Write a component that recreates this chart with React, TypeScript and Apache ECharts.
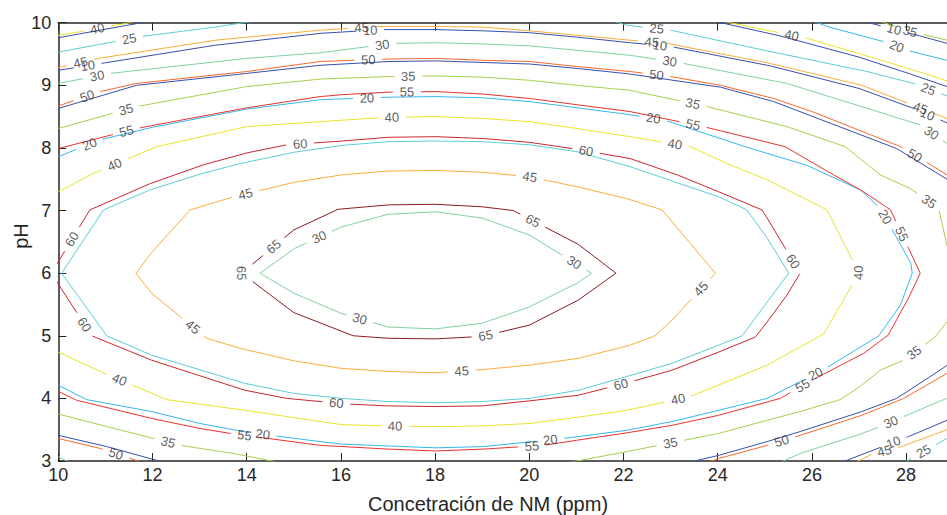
import { useEffect, useRef } from "react";
import * as echarts from "echarts";

type Pt = [number, number];

// Axis ranges and ticks
const X_MIN = 10;
const X_MAX = 30;
const X_STEP = 2;
const Y_MIN = 3;
const Y_MAX = 10;
const Y_STEP = 1;
const X_TITLE = "Concetración de NM (ppm)";
const Y_TITLE = "pH";

// Contour lines (x = NM ppm, y = pH)
const G30in: Pt[] = [[14.28,6],[15.03,6.40],[16.02,6.74],[17.0,6.94],[18.02,6.98],[19.0,6.88],[20.0,6.61],[21.04,6.13],[21.32,6.0],[21.04,5.85],[20.0,5.46],[19.0,5.20],[18.0,5.11],[17.0,5.14],[16.0,5.36],[15.0,5.68],[14.28,6]];
const DR65: Pt[] = [[13.89,6],[15.0,6.69],[15.94,7.02],[17.0,7.09],[18.0,7.10],[19.0,7.06],[19.66,7.0],[21.04,6.46],[21.84,6.0],[21.04,5.57],[20.0,5.17],[19.0,4.99],[18.0,4.95],[17.0,4.96],[16.26,5.0],[15.0,5.37],[13.89,6]];
const O45: Pt[] = [[11.65,6],[11.98,6.33],[12.8,7.01],[13.72,7.22],[15.0,7.45],[16.02,7.57],[17.0,7.63],[18.02,7.64],[19.02,7.61],[20.0,7.54],[21.01,7.38],[22.07,7.19],[22.82,7.01],[23.95,6.0],[23.03,5.25],[22.67,5.0],[22.14,4.85],[21.04,4.64],[20.0,4.53],[19.0,4.46],[18.0,4.41],[17.0,4.43],[16.0,4.48],[15.0,4.6],[13.86,4.80],[13.15,4.96],[11.98,5.68],[11.65,6]];
const C25in: Pt[] = [[10.07,6],[10.96,7.01],[11.95,7.33],[13.0,7.58],[13.86,7.75],[15.0,7.93],[16.02,8.04],[17.0,8.10],[18.02,8.11],[19.0,8.10],[20.01,8.05],[21.01,7.94],[22.14,7.70],[23.0,7.48],[24.02,7.22],[24.62,7.01],[25.05,6.56],[25.51,6.0],[25.0,5.49],[24.52,5.0],[24.02,4.85],[23.03,4.56],[22.07,4.35],[21.04,4.13],[20.01,4.0],[19.0,3.95],[18.02,3.93],[17.0,3.95],[16.02,4.0],[15.0,4.08],[13.96,4.24],[11.98,4.69],[11.03,5.0],[10.07,6]];
const R60: Pt[] = [[9.85,6],[10.67,7.01],[11.95,7.43],[13.08,7.73],[14.0,7.92],[14.85,8.05],[16.02,8.11],[17.0,8.17],[18.02,8.18],[19.02,8.15],[20.0,8.09],[21.0,7.98],[22.14,7.83],[23.14,7.57],[24.02,7.30],[24.94,7.01],[25.05,6.88],[25.75,6.0],[25.47,5.65],[25.05,5.22],[24.8,4.98],[24.02,4.74],[23.03,4.45],[22.18,4.27],[21.04,4.05],[20.0,3.96],[19.0,3.88],[18.0,3.87],[17.0,3.88],[16.12,3.91],[14.85,4.0],[13.96,4.13],[11.98,4.61],[10.71,5.0],[9.85,6]];
const Y40: Pt[] = [[10,7.30],[10.71,7.58],[12.09,8.02],[14.0,8.34],[15.56,8.42],[17.0,8.49],[18.02,8.50],[19.02,8.47],[20.01,8.42],[21.01,8.31],[22.14,8.18],[23.42,8.02],[24.2,7.75],[25.05,7.49],[26.32,7.01],[27.0,6.0],[26.25,5.03],[25.05,4.53],[23.42,4.03],[22.07,3.81],[21.04,3.70],[20.01,3.60],[19.0,3.56],[18.02,3.55],[17.0,3.56],[16.02,3.58],[15.56,3.63],[13.96,3.81],[12.30,3.98],[10.89,4.43],[10,4.74]];
const LB20: Pt[] = [[10,7.86],[10.89,8.13],[12.0,8.33],[14.0,8.62],[15.56,8.77],[17.0,8.81],[18.02,8.82],[19.02,8.80],[20.01,8.74],[22.14,8.53],[22.85,8.45],[24.58,8.02],[25.9,7.72],[27.03,7.33],[27.45,7.04],[28.1,6.16],[28.13,6.0],[27.88,5.49],[27.42,5.0],[27.03,4.82],[26.25,4.46],[25.05,4.0],[24.02,3.81],[23.03,3.63],[22.07,3.49],[20.72,3.36],[19.02,3.23],[18.02,3.21],[16.02,3.27],[15.45,3.32],[14.0,3.46],[13.0,3.60],[11.98,3.79],[10.6,3.98],[10,4.21]];
const R55: Pt[] = [[10,7.99],[11.66,8.31],[14.0,8.64],[15.56,8.82],[16.02,8.85],[17.0,8.89],[18.02,8.90],[19.02,8.86],[20.01,8.79],[21.01,8.69],[22.14,8.58],[23.7,8.34],[25.43,8.02],[26.46,7.57],[27.1,7.30],[27.67,7.01],[28.30,6.0],[28.05,5.60],[27.62,5.01],[27.1,4.72],[26.0,4.29],[25.33,4.0],[24.02,3.73],[23.03,3.57],[22.07,3.45],[21.0,3.33],[20.3,3.25],[19.02,3.19],[18.02,3.16],[17.0,3.19],[15.56,3.25],[13.65,3.44],[13.0,3.52],[11.98,3.68],[10.39,3.97],[10,4.11]];
const YG35: Pt[] = [[10,8.31],[11.66,8.66],[14.0,8.98],[15.56,9.10],[17.0,9.14],[18.02,9.15],[19.02,9.13],[20.01,9.08],[21.01,9.0],[22.14,8.92],[23.77,8.66],[25.47,8.34],[26.71,8.02],[27.45,7.57],[28.09,7.35],[28.69,7.04],[29.0,6.0],[28.87,5.22],[28.6,4.97],[27.95,4.61],[27.45,4.45],[27.06,4.21],[26.6,3.98],[25.75,3.79],[25.05,3.65],[24.02,3.44],[22.07,3.15],[21.01,3.0],[20.5,2.93]];
const YG35ll: Pt[] = [[10,3.75],[11.03,3.55],[12.59,3.25],[13.72,3.12],[14.6,2.99]];
const OR50top: Pt[] = [[10,8.67],[10.89,8.90],[11.66,9.03],[14.0,9.22],[15.56,9.38],[17.0,9.42],[18.02,9.43],[19.02,9.40],[20.01,9.38],[21.01,9.30],[22.14,9.22],[23.0,9.14],[24.06,9.0],[25.19,8.79],[26.04,8.57],[27.88,8.02],[28.87,7.57],[29.2,7.4]];
const DB15top: Pt[] = [[10,8.63],[11.66,9.0],[14.0,9.19],[15.56,9.32],[17.0,9.38],[18.02,9.39],[20.01,9.34],[21.01,9.27],[22.14,9.18],[24.06,8.97],[25.19,8.74],[27.8,7.99],[28.87,7.5],[29.2,7.35]];
const OR50br: Pt[] = [[23.84,2.99],[24.02,3.04],[25.05,3.25],[25.75,3.41],[27.06,3.73],[27.95,4.0],[28.87,4.40],[29.2,4.55]];
const DB15br: Pt[] = [[23.45,2.99],[24.02,3.09],[25.05,3.31],[25.75,3.47],[27.06,3.79],[27.8,4.0],[28.72,4.45],[29.1,4.65]];
const OR50ll: Pt[] = [[10,3.36],[10.89,3.20],[11.73,2.99]];
const DB15ll: Pt[] = [[10,3.41],[11.03,3.23],[12.09,3.01],[12.15,2.99]];
const G30top: Pt[] = [[10,9.03],[11.1,9.19],[14.0,9.43],[15.56,9.52],[17.11,9.67],[18.02,9.68],[19.02,9.66],[20.01,9.63],[21.01,9.56],[22.14,9.48],[23.2,9.36],[25.47,9.03],[28.29,8.37],[28.87,8.07],[29.2,7.9]];
const G30br: Pt[] = [[25.37,2.99],[25.75,3.12],[27.03,3.43],[27.45,3.55],[28.86,4.0],[29.2,4.1]];
const G30bl: Pt[] = [[10,3.07],[10.2,2.99]];
const O45top: Pt[] = [[10,9.28],[10.85,9.43],[13.33,9.72],[15.56,9.88],[16.76,9.94],[18.02,9.94],[19.02,9.93],[20.01,9.87],[21.01,9.80],[22.14,9.72],[22.92,9.67],[25.05,9.36],[27.06,9.0],[28.66,8.53],[29.1,8.4]];
const DB10top: Pt[] = [[10,9.24],[11.0,9.36],[13.33,9.64],[15.56,9.83],[16.9,9.89],[18.02,9.89],[19.02,9.87],[20.01,9.84],[21.01,9.77],[22.14,9.68],[23.0,9.62],[25.12,9.31],[27.0,8.95],[28.16,8.63],[28.87,8.40],[29.1,8.33]];
const O45br: Pt[] = [[26.96,2.99],[27.31,3.12],[27.9,3.23],[28.87,3.5],[29.1,3.57]];
const DB10br: Pt[] = [[26.67,2.99],[28.05,3.39],[28.87,3.65],[29.1,3.72]];
const C25tl: Pt[] = [[10,9.53],[11.77,9.78],[13.33,9.93],[14.1,10.02]];
const C25tr: Pt[] = [[21.8,10.02],[22.07,9.96],[23.0,9.88],[25.05,9.55],[27.17,9.22],[28.15,9.03],[28.72,8.87],[29.0,8.8]];
const C25br: Pt[] = [[28.0,2.99],[28.1,3.04],[28.87,3.36],[29.1,3.45]];
const Y40tl: Pt[] = [[10,9.80],[10.5,9.86],[11.45,9.99],[11.6,10.02]];
const DB5tl: Pt[] = [[10,9.76],[11.77,10.0],[11.9,10.02]];
const Y40tr: Pt[] = [[24.13,10.02],[25.9,9.75],[27.03,9.5],[28.09,9.26],[28.87,9.07],[29.1,9.0]];
const DB5tr: Pt[] = [[23.95,10.02],[25.32,9.79],[27.0,9.45],[28.09,9.18],[28.87,8.98],[29.1,8.92]];
const LB20tr: Pt[] = [[26.05,10.02],[26.32,9.94],[27.66,9.67],[28.01,9.56],[28.86,9.40],[29.1,9.35]];
const DB10tr: Pt[] = [[27.1,10.02],[27.73,9.9],[28.29,9.79],[28.87,9.67]];
const YG35tr: Pt[] = [[27.45,10.02],[28.05,9.87],[28.87,9.72]];

// Contour levels of each line
const LINES: Record<string, { level: number; pts: Pt[] }> = {
  G30in: { level: 30, pts: G30in },
  DR65: { level: 65, pts: DR65 },
  O45: { level: 45, pts: O45 },
  C25in: { level: 25, pts: C25in },
  R60: { level: 60, pts: R60 },
  Y40: { level: 40, pts: Y40 },
  LB20: { level: 20, pts: LB20 },
  R55: { level: 55, pts: R55 },
  YG35: { level: 35, pts: YG35 },
  YG35ll: { level: 35, pts: YG35ll },
  OR50top: { level: 50, pts: OR50top },
  DB15top: { level: 15, pts: DB15top },
  OR50br: { level: 50, pts: OR50br },
  DB15br: { level: 15, pts: DB15br },
  OR50ll: { level: 50, pts: OR50ll },
  DB15ll: { level: 15, pts: DB15ll },
  G30top: { level: 30, pts: G30top },
  G30br: { level: 30, pts: G30br },
  G30bl: { level: 30, pts: G30bl },
  O45top: { level: 45, pts: O45top },
  DB10top: { level: 10, pts: DB10top },
  O45br: { level: 45, pts: O45br },
  DB10br: { level: 10, pts: DB10br },
  C25tl: { level: 25, pts: C25tl },
  C25tr: { level: 25, pts: C25tr },
  C25br: { level: 25, pts: C25br },
  Y40tl: { level: 40, pts: Y40tl },
  DB5tl: { level: 5, pts: DB5tl },
  Y40tr: { level: 40, pts: Y40tr },
  DB5tr: { level: 5, pts: DB5tr },
  LB20tr: { level: 20, pts: LB20tr },
  DB10tr: { level: 10, pts: DB10tr },
  YG35tr: { level: 35, pts: YG35tr },
};

// Where the level labels sit (line, x, y)
const LABELS: [string, number, number][] = [
  ["Y40tl", 10.82, 9.93],
  ["C25tl", 11.49, 9.80],
  ["O45top", 10.46, 9.40], ["O45top", 16.44, 9.95], ["O45top", 22.61, 9.75], ["O45top", 28.34, 8.71],
  ["DB10top", 10.61, 9.38], ["DB10top", 16.62, 9.90], ["DB10top", 22.78, 9.68], ["DB10top", 28.48, 8.58],
  ["G30top", 10.82, 9.16], ["G30top", 16.87, 9.70], ["G30top", 22.99, 9.42], ["G30top", 28.51, 8.21],
  ["OR50top", 10.60, 8.85], ["OR50top", 16.58, 9.46], ["OR50top", 22.71, 9.22], ["OR50top", 28.23, 7.94],
  ["YG35", 11.42, 8.66], ["YG35", 17.43, 9.19], ["YG35", 23.49, 8.77], ["YG35", 28.51, 7.17], ["YG35", 28.13, 4.77], ["YG35", 22.99, 3.31],
  ["R55", 11.42, 8.34], ["R55", 17.40, 8.94], ["R55", 23.49, 8.42], ["R55", 27.95, 6.64], ["R55", 25.75, 4.27], ["R55", 20.05, 3.31], ["R55", 13.96, 3.44],
  ["LB20", 10.64, 8.10], ["LB20", 16.55, 8.85], ["LB20", 22.64, 8.50], ["LB20", 27.56, 6.90], ["LB20", 26.04, 4.45], ["LB20", 20.44, 3.39], ["LB20", 14.35, 3.47],
  ["Y40", 11.17, 7.78], ["Y40", 17.08, 8.55], ["Y40", 23.10, 8.10], ["Y40", 27.03, 6.02], ["Y40", 23.14, 4.05], ["Y40", 17.15, 3.60], ["Y40", 11.31, 4.32],
  ["R60", 15.13, 8.10], ["R60", 21.22, 8.02], ["R60", 10.21, 6.58], ["R60", 25.65, 6.21], ["R60", 10.64, 5.22], ["R60", 15.91, 3.97], ["R60", 21.93, 4.27],
  ["O45", 20.02, 7.57], ["O45", 13.96, 7.31], ["O45", 12.80, 5.09], ["O45", 23.60, 5.78], ["O45", 18.56, 4.48],
  ["C25tr", 22.71, 9.94], ["C25tr", 28.48, 8.95],
  ["Y40tr", 25.58, 9.83],
  ["LB20tr", 27.81, 9.64],
  ["DB10tr", 27.74, 9.88],
  ["YG35tr", 28.08, 9.85],
  ["DR65", 14.49, 6.50], ["DR65", 13.75, 6.0], ["DR65", 20.12, 6.90], ["DR65", 19.06, 5.04],
  ["G30in", 15.51, 6.62], ["G30in", 21.01, 6.24], ["G30in", 16.41, 5.30],
  ["YG35ll", 12.34, 3.33],
  ["OR50ll", 11.24, 3.15],
  ["OR50br", 25.33, 3.39],
  ["G30br", 27.66, 3.65],
  ["O45br", 27.52, 3.23],
  ["DB10br", 27.70, 3.36],
  ["C25br", 28.30, 3.25],
];

const LEVEL_COLORS: Record<number, string> = {
  5: "#3550a8",
  10: "#3550a8",
  15: "#3550a8",
  20: "#35b6ee",
  25: "#5ccdd6",
  30: "#80d2a0",
  35: "#a5d14a",
  40: "#ece22a",
  45: "#fbac3a",
  50: "#f7692c",
  55: "#e8332f",
  60: "#cc262d",
  65: "#8b1b1d",
};

const FONT = '"Liberation Sans", Arial, Helvetica, sans-serif';
const INK = "#262626";

function cutRuns(runs: Pt[][], c: Pt, r: number): Pt[][] {
  const out: Pt[][] = [];
  const inside = (p: Pt) => (p[0] - c[0]) ** 2 + (p[1] - c[1]) ** 2 < r * r;
  for (const run of runs) {
    let cur: Pt[] = [];
    if (!inside(run[0])) cur.push(run[0]);
    for (let i = 0; i < run.length - 1; i++) {
      const a = run[i], b = run[i + 1];
      const dx = b[0] - a[0], dy = b[1] - a[1];
      const fx = a[0] - c[0], fy = a[1] - c[1];
      const A = dx * dx + dy * dy, B = 2 * (fx * dx + fy * dy), C = fx * fx + fy * fy - r * r;
      const disc = B * B - 4 * A * C;
      if (disc > 0 && A > 0) {
        const s = Math.sqrt(disc);
        const t1 = (-B - s) / (2 * A), t2 = (-B + s) / (2 * A);
        if (t1 > 0 && t1 < 1) {
          cur.push([a[0] + dx * t1, a[1] + dy * t1]);
          if (cur.length > 1) out.push(cur);
          cur = [];
        }
        if (t2 > 0 && t2 < 1) cur = [[a[0] + dx * t2, a[1] + dy * t2]];
      }
      if (!inside(b)) cur.push(b);
    }
    if (cur.length > 1) out.push(cur);
  }
  return out;
}

export default function App() {
  const ref = useRef<HTMLDivElement>(null);
  useEffect(() => {
    const el = ref.current!;
    const chart = echarts.init(el, null, { renderer: "svg" });
    const left = 58.3, top = 22.7, bottomPx = 461;
    const pxPerX = 47.1;
    const right = 947 - (left + (X_MAX - X_MIN) * pxPerX);
    const axisCommon = {
      type: "value" as const,
      min: X_MIN,
      max: X_MAX,
      interval: X_STEP,
      splitLine: { show: false },
      axisLine: { show: true, onZero: false, lineStyle: { color: INK, width: 1.5 } },
      axisTick: { show: true, inside: true, length: 8, lineStyle: { color: INK, width: 1 } },
    };
    chart.setOption({
      animation: false,
      backgroundColor: "#ffffff",
      grid: { left, top, right, bottom: 515 - bottomPx, outerBoundsMode: "none", containLabel: false },
      xAxis: [
        { ...axisCommon, position: "bottom", axisLabel: { show: true, showMaxLabel: false, fontSize: 18, color: INK, fontFamily: FONT, margin: 5 } },
        { ...axisCommon, position: "top", axisLabel: { show: false } },
      ],
      yAxis: [
        {
          type: "value", min: Y_MIN, max: Y_MAX, interval: Y_STEP, position: "left",
          splitLine: { show: false },
          axisLine: { show: true, onZero: false, lineStyle: { color: INK, width: 1.5 } },
          axisTick: { show: true, inside: true, length: 8, lineStyle: { color: INK, width: 1 } },
          axisLabel: { fontSize: 18, color: INK, fontFamily: FONT, margin: 7 },
        },
      ],
      graphic: [
        { type: "text", x: 488, y: 504, style: { text: X_TITLE, fontSize: 20, fontFamily: FONT, fill: INK, align: "center", verticalAlign: "middle" } },
        { type: "text", x: 20.5, y: 236, rotation: Math.PI / 2, style: { text: Y_TITLE, fontSize: 20, fontFamily: FONT, fill: INK, align: "center", verticalAlign: "middle" } },
      ],
      series: [],
    });

    const finder = { xAxisIndex: 0, yAxisIndex: 0 };
    const toPx = (p: Pt): Pt => chart.convertToPixel(finder, p) as unknown as Pt;
    const toData = (p: Pt): Pt => chart.convertFromPixel(finder, p) as unknown as Pt;

    const runsByLine: Record<string, Pt[][]> = {};
    for (const k of Object.keys(LINES)) runsByLine[k] = [LINES[k].pts.map(toPx)];

    const R = 14;
    const labelData: any[] = [];
    for (const [k, lx, ly] of LABELS) {
      const poly = LINES[k].pts.map(toPx);
      const first = LINES[k].pts[0], last = LINES[k].pts[LINES[k].pts.length - 1];
      const closed = first[0] === last[0] && first[1] === last[1];
      const c = toPx([lx, ly]);
      const cum = [0];
      let best = Infinity, bestS = 0;
      let bestP: Pt = c;
      for (let i = 0; i < poly.length - 1; i++) {
        const a = poly[i], b = poly[i + 1];
        const dx = b[0] - a[0], dy = b[1] - a[1];
        const len = Math.hypot(dx, dy);
        let t = len > 0 ? ((c[0] - a[0]) * dx + (c[1] - a[1]) * dy) / (len * len) : 0;
        t = Math.max(0, Math.min(1, t));
        const q: Pt = [a[0] + dx * t, a[1] + dy * t];
        const d = Math.hypot(c[0] - q[0], c[1] - q[1]);
        if (d < best) { best = d; bestS = cum[i] + t * len; bestP = q; }
        cum.push(cum[i] + len);
      }
      const total = cum[cum.length - 1];
      const at = (s: number): Pt => {
        if (closed) s = ((s % total) + total) % total;
        else s = Math.max(0, Math.min(total, s));
        for (let i = 0; i < poly.length - 1; i++) {
          if (s <= cum[i + 1] || i === poly.length - 2) {
            const seg = cum[i + 1] - cum[i];
            const t = seg > 0 ? (s - cum[i]) / seg : 0;
            return [poly[i][0] + (poly[i + 1][0] - poly[i][0]) * t, poly[i][1] + (poly[i + 1][1] - poly[i][1]) * t];
          }
        }
        return poly[poly.length - 1];
      };
      const p1 = at(bestS - 9), p2 = at(bestS + 9);
      let ang = (Math.atan2(-(p2[1] - p1[1]), p2[0] - p1[0]) * 180) / Math.PI;
      if (ang > 90) ang -= 180;
      if (ang < -90) ang += 180;
      runsByLine[k] = cutRuns(runsByLine[k], bestP, R);
      labelData.push({ name: String(LINES[k].level), value: toData(bestP), label: { rotate: ang } });
    }

    const series: any[] = [];
    for (const k of Object.keys(LINES)) {
      const color = LEVEL_COLORS[LINES[k].level];
      for (const run of runsByLine[k]) {
        series.push({
          type: "line",
          xAxisIndex: 0,
          yAxisIndex: 0,
          data: run.map(toData),
          symbol: "none",
          showSymbol: false,
          silent: true,
          clip: true,
          z: 2,
          lineStyle: { color, width: 1 },
        });
      }
    }
    series.push({
      type: "scatter",
      xAxisIndex: 0,
      yAxisIndex: 0,
      data: labelData,
      symbolSize: 1,
      silent: true,
      z: 4,
      itemStyle: { color: "rgba(0,0,0,0)" },
      label: { show: true, position: "inside", formatter: "{b}", fontSize: 13, color: "#333333", fontFamily: FONT },
    });
    chart.setOption({ series });
    return () => chart.dispose();
  }, []);
  return <div ref={ref} style={{ position: "absolute", left: 0, top: 0, width: 947, height: 515 }} />;
}
